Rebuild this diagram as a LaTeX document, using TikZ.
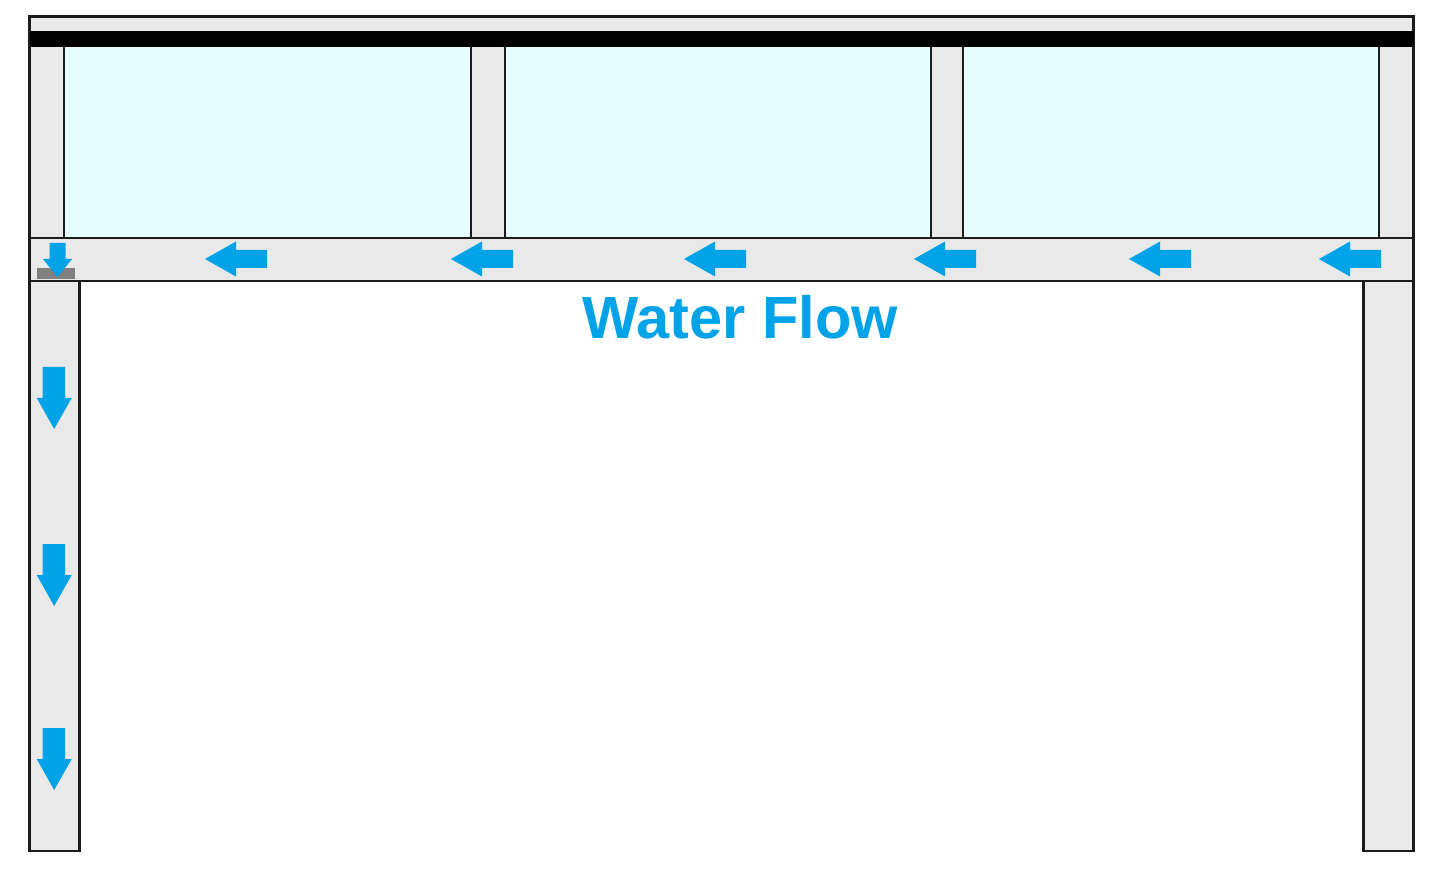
\documentclass[tikz,border=0pt]{standalone}
\usepackage{fontspec}
\setmainfont{Liberation Sans}
\definecolor{ink}{HTML}{1C1C1C}
\definecolor{concrete}{HTML}{E9E9E9}
\definecolor{glass}{HTML}{E6FFFE}
\definecolor{waterblue}{HTML}{00A2E8}
\definecolor{drain}{HTML}{808080}
\tikzset{
  flowleft/.pic={\fill[waterblue] (0,0)--(31,-17.5)--(31,-9)--(62,-9)--(62,9)--(31,9)--(31,17.5)--cycle;},
  flowdown/.pic={\fill[waterblue] (0,0)--(-17.5,-31)--(-11.5,-31)--(-11.5,-62)--(11,-62)--(11,-31)--(17.5,-31)--cycle;}
}

\begin{document}
\begin{tikzpicture}[
  x=0.02cm,
  y=-0.02cm,
  line width=1.5pt,
  line join=miter
]
  \useasboundingbox (0,0) rectangle (1440,871);

  \coordinate (TL) at (29.5,16.5);
  \coordinate (TR) at (1413.5,46);
  \coordinate (BL) at (29.5,238);
  \coordinate (BR) at (1413.5,281);

  % roof and beam
  \filldraw[fill=concrete,draw=ink] (TL) rectangle (TR);
  \filldraw[fill=concrete,draw=ink] (BL) rectangle (BR);

  % posts
  \filldraw[fill=concrete,draw=ink] (29.5,46) rectangle (64,238);
  \filldraw[fill=concrete,draw=ink] (471,46) rectangle (505,238);
  \filldraw[fill=concrete,draw=ink] (931,46) rectangle (963,238);
  \filldraw[fill=concrete,draw=ink] (1379,46) rectangle (1413.5,238);

  % glass panels
  \fill[glass] (65,46.5) rectangle (470,237);
  \fill[glass] (506,46.5) rectangle (930,237);
  \fill[glass] (964,46.5) rectangle (1378,237);

  % black strip goes over the post tops
  \fill[black] (29.5,31) rectangle (1413.5,47);

  % columns
  \filldraw[fill=concrete,draw=ink] (29.5,281) rectangle (79.5,851);
  \filldraw[fill=concrete,draw=ink] (1363.5,281) rectangle (1413.5,851);

  % drain
  \fill[drain] (37,268) rectangle (75,279.5);

  % water in the beam
  \pic at (205,259) {flowleft};
  \pic at (451,259) {flowleft};
  \pic at (684,259) {flowleft};
  \pic at (914,259) {flowleft};
  \pic at (1129,259) {flowleft};
  \pic at (1319,259) {flowleft};

  \fill[waterblue] (57.5,277)--(43,259)--(49.5,259)--(49.5,243)--(65.5,243)--(65.5,259)--(72,259)--cycle;

  % water in the column
  \pic at (54.2,429) {flowdown};
  \pic at (54.2,606) {flowdown};
  \pic at (54.2,790) {flowdown};

  \node[anchor=base,inner sep=0pt,text=waterblue,font=\fontsize{33.9pt}{36pt}\selectfont\bfseries] (waterflow) at (740.5,338.5) {Water Flow};
\end{tikzpicture}
\end{document}
